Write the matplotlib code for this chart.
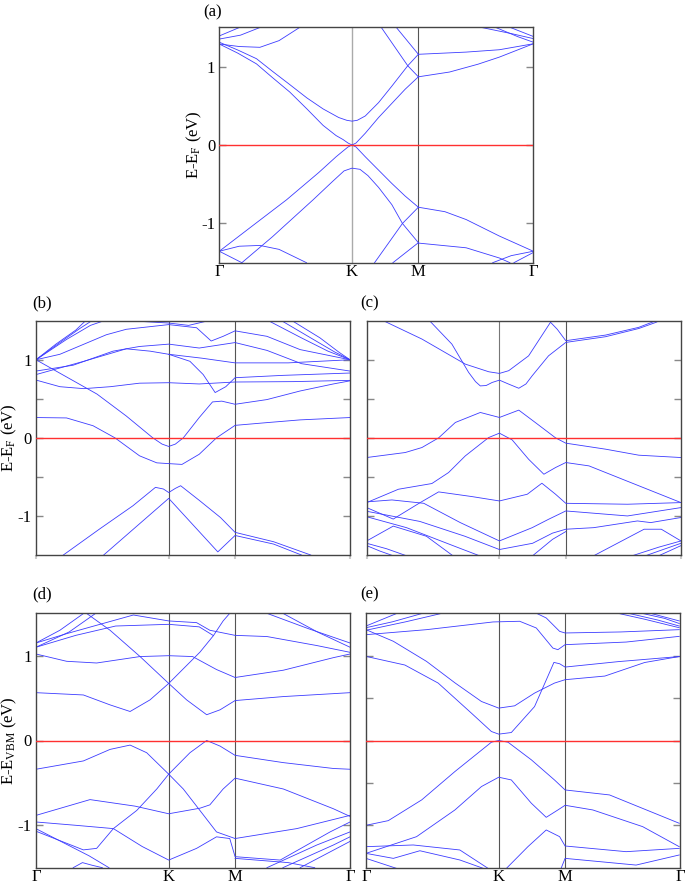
import matplotlib
matplotlib.use('Agg')
import matplotlib.pyplot as plt

plt.rcParams['font.family'] = ['Liberation Serif', 'DejaVu Serif']
plt.rcParams['mathtext.fontset'] = 'custom'
plt.rcParams['mathtext.rm'] = 'Liberation Serif'
plt.rcParams['mathtext.it'] = 'Liberation Serif:italic'

# high-symmetry path
kpts = [0.0, 1.0, 1.5, 2.366]
klabels = ['Γ', 'K', 'M', 'Γ']

# ---------------- panel (a) bands: (k, E) ----------------
a_c_in = [(0,1.287),(0.14,1.17),(0.28,1.034),(0.4,0.86),(0.531,0.675),(0.66,0.46),(0.782,0.25),(0.88,0.12),(0.932,0.07),(0.97,0.025),(1.0,0.0),(1.03,0.025),(1.1,0.15),(1.2,0.35),(1.3,0.53),(1.4,0.71),(1.5,0.869)]
a_c_out = [(0,1.31),(0.14,1.21),(0.28,1.10),(0.4,0.94),(0.531,0.77),(0.66,0.6),(0.782,0.46),(0.9,0.35),(0.96,0.315),(1.0,0.304),(1.04,0.315),(1.1,0.37),(1.2,0.54),(1.3,0.75),(1.42,1.01),(1.5,1.156)]
a_v_in = [(0,-1.354),(0.25,-1.03),(0.507,-0.698),(0.75,-0.35),(0.88,-0.15),(0.93,-0.08),(0.97,-0.025),(1.0,0.0),(1.03,-0.025),(1.1,-0.15),(1.2,-0.32),(1.3,-0.49),(1.4,-0.65),(1.5,-0.793)]
a_v_out = [(0.17,-1.5),(0.4,-1.17),(0.707,-0.698),(0.85,-0.47),(0.94,-0.33),(1.0,-0.295),(1.06,-0.31),(1.12,-0.39),(1.2,-0.54),(1.3,-0.76),(1.38,-1.0),(1.5,-1.245)]
a_top1 = [(1.22,1.5),(1.42,1.01),(1.5,0.869)]
a_top2 = [(1.333,1.5),(1.5,1.156)]
a_bot1 = [(1.17,-1.5),(1.38,-1.0),(1.5,-0.793)]
a_bot2 = [(1.308,-1.5),(1.5,-1.245)]
a_mc1 = [(1.5,1.156),(1.86,1.184),(2.11,1.214),(2.366,1.29)]
a_mc2 = [(1.5,0.869),(1.735,0.93),(1.95,1.03),(2.11,1.12),(2.366,1.29)]
a_mv1 = [(1.5,-0.793),(1.7,-0.85),(1.86,-0.95),(2.11,-1.16),(2.366,-1.354)]
a_mv2 = [(1.5,-1.25),(1.86,-1.31),(2.11,-1.44),(2.19,-1.5)]
a_gv1 = [(2.06,-1.5),(2.2,-1.41),(2.366,-1.354)]
a_gv2 = [(2.22,-1.5),(2.366,-1.37)]
a_gc1 = [(1.97,1.5),(2.2,1.42),(2.366,1.356)]
a_gc2 = [(2.19,1.5),(2.366,1.383)]
a_gc3 = [(2.08,1.5),(2.25,1.38),(2.366,1.31)]
a_arc_v = [(0,-1.354),(0.15,-1.29),(0.306,-1.28),(0.45,-1.33),(0.657,-1.5)]
a_gl_v = [(0,-1.354),(0.17,-1.5)]
a_arc_c = [(0,1.287),(0.15,1.255),(0.306,1.245),(0.45,1.33),(0.607,1.5)]
a_gl_c1 = [(0,1.39),(0.155,1.5)]
a_gl_c2 = [(0,1.35),(0.16,1.40),(0.31,1.5)]
bands_a = [a_c_in, a_c_out, a_v_in, a_v_out, a_top1, a_top2, a_bot1, a_bot2,
           a_mc1, a_mc2, a_mv1, a_mv2, a_gv1, a_gv2, a_gc1, a_gc2, a_gc3,
           a_arc_v, a_gl_v, a_arc_c, a_gl_c1, a_gl_c2]

# ---------------- panel (b) ----------------
b_v = [(0,1.0),(0.23,0.78),(0.46,0.56),(0.68,0.28),(0.88,0.0),(0.95,-0.08),(1.0,-0.11),(1.05,-0.08),(1.11,0.0),(1.23,0.26),(1.33,0.46),(1.40,0.47),(1.5,0.43),(1.74,0.49),(1.99,0.60),(2.24,0.69),(2.366,0.73)]
b_w = [(0,0.26),(0.23,0.255),(0.43,0.155),(0.595,0.0),(0.78,-0.23),(0.91,-0.32),(1.0,-0.33),(1.10,-0.34),(1.23,-0.21),(1.36,0.0),(1.5,0.16),(1.74,0.195),(1.99,0.23),(2.366,0.26)]
b_flat = [(0,0.74),(0.18,0.655),(0.36,0.63),(0.56,0.655),(0.78,0.70),(1.0,0.706),(1.23,0.69),(1.5,0.715),(1.94,0.72),(2.366,0.736)]
b_dip = [(0,0.81),(0.36,0.98),(0.68,1.14),(0.86,1.11),(1.0,1.07),(1.16,0.98),(1.26,0.81),(1.35,0.58),(1.43,0.655),(1.5,0.77),(1.86,0.80),(2.366,0.83)]
b_u1 = [(0,1.0),(0.18,1.22),(0.33,1.40),(0.43,1.51)]
b_u2 = [(0,1.0),(0.23,1.26),(0.41,1.44),(0.53,1.51)]
b_u3 = [(0,1.0),(0.18,1.07),(0.53,1.32),(0.68,1.39),(1.0,1.45),(1.21,1.41),(1.32,1.24),(1.41,1.30),(1.5,1.37),(1.74,1.30),(1.99,1.13),(2.366,1.0)]
b_u4 = [(0,0.855),(0.28,0.93),(0.58,1.11),(0.78,1.17),(1.0,1.20),(1.23,1.15),(1.5,1.22),(1.74,1.12),(2.0,0.95),(2.366,0.855)]
b_e = [(1.0,1.07),(1.25,1.02),(1.5,0.96),(1.9,0.96),(2.366,1.0)]
b_r1 = [(1.74,1.51),(2.0,1.28),(2.2,1.11),(2.366,1.0)]
b_r2 = [(1.84,1.51),(2.08,1.27),(2.25,1.1),(2.366,1.0)]
b_r3 = [(1.92,1.51),(2.14,1.28),(2.28,1.1),(2.366,1.0)]
b_l3 = [(0,1.0),(0.15,1.2),(0.3,1.38),(0.38,1.51)]
b_top = [(0.7,1.5),(1.0,1.47),(1.15,1.44),(1.3,1.5)]
b_v1 = [(0.206,-1.5),(0.48,-1.166),(0.73,-0.87),(0.90,-0.634),(0.96,-0.655),(1.0,-0.70),(1.05,-0.647),(1.09,-0.613),(1.23,-0.80),(1.39,-1.02),(1.5,-1.21),(1.79,-1.33),(2.07,-1.5)]
b_v2 = [(0.51,-1.5),(1.0,-0.775),(1.37,-1.46),(1.5,-1.25),(1.79,-1.36),(2.0,-1.5)]
bands_b = [b_v, b_w, b_flat, b_dip, b_u1, b_u2, b_u3, b_u4, b_e, b_r1, b_r2, b_r3,
           b_l3, b_top, b_v1, b_v2]

# ---------------- panel (c) ----------------
c_a = [(0.113,1.51),(0.416,1.265),(0.743,0.944),(0.92,0.846),(1.0,0.825),(1.07,0.86),(1.22,1.05),(1.385,1.48),(1.436,1.39),(1.5,1.244),(1.80,1.316),(2.05,1.415),(2.2,1.513)]
c_b = [(0.466,1.513),(0.642,1.20),(0.768,0.838),(0.82,0.72),(0.856,0.665),(0.9,0.67),(0.945,0.709),(1.0,0.739),(1.07,0.688),(1.146,0.635),(1.2,0.69),(1.247,0.795),(1.37,1.05),(1.5,1.222),(1.80,1.295),(2.05,1.40),(2.18,1.479),(2.22,1.513)]
c_c = [(0,-0.252),(0.29,-0.188),(0.416,-0.124),(0.542,0.0),(0.668,0.197),(0.856,0.325),(1.0,0.261),(1.146,0.355),(1.27,0.197),(1.423,0.0),(1.5,-0.068),(1.80,-0.145),(2.05,-0.222),(2.368,-0.252)]
c_d = [(0,-0.829),(0.239,-0.658),(0.491,-0.585),(0.617,-0.444),(0.743,-0.231),(0.919,0.004),(1.0,0.06),(1.096,-0.026),(1.22,-0.274),(1.335,-0.466),(1.423,-0.38),(1.5,-0.316),(1.675,-0.359),(1.927,-0.53),(2.368,-0.829)]
c_e = [(0,-0.893),(0.2,-1.04),(0.403,-0.829),(0.542,-0.692),(0.793,-0.752),(1.0,-0.808),(1.21,-0.722),(1.32,-0.581),(1.423,-0.722),(1.5,-0.838),(1.965,-0.85),(2.368,-0.829)]
c_f = [(0,-0.82),(0.19,-0.795),(0.43,-0.838),(0.705,-1.085),(1.0,-1.32),(1.247,-1.15),(1.37,-1.043),(1.448,-0.979),(1.5,-0.936),(1.965,-1.0),(2.368,-0.893)]
c_g = [(0,-0.94),(0.4,-1.07),(0.74,-1.26),(1.0,-1.43),(1.25,-1.35),(1.4,-1.22),(1.5,-1.17),(1.71,-1.15),(2.04,-1.064),(2.14,-1.085),(2.368,-1.02)]
c_h = [(0,-1.01),(0.3,-1.15),(0.65,-1.38),(0.85,-1.51)]
c_i = [(0,-1.32),(0.2,-1.13),(0.45,-1.26),(0.65,-1.51)]
c_j = [(0,-1.35),(0.15,-1.42),(0.3,-1.51)]
c_k = [(0,-1.38),(0.1,-1.45),(0.2,-1.51)]
c_l = [(1.25,-1.51),(1.4,-1.3),(1.5,-1.2)]
c_m = [(1.71,-1.51),(2.09,-1.17),(2.22,-1.17),(2.368,-1.32)]
c_n = [(2.0,-1.51),(2.2,-1.4),(2.368,-1.32)]
c_o = [(2.1,-1.51),(2.25,-1.42),(2.368,-1.35)]
c_p = [(2.2,-1.51),(2.368,-1.38)]
bands_c = [c_a, c_b, c_c, c_d, c_e, c_f, c_g, c_h, c_i, c_j, c_k, c_l, c_m, c_n, c_o, c_p]

# ---------------- panel (d) ----------------
d_vtop = [(0,-0.339),(0.357,-0.241),(0.558,-0.105),(0.709,-0.054),(0.834,-0.144),(1.0,-0.397),(1.11,-0.572),(1.21,-0.774),(1.36,-1.078),(1.5,-1.156),(1.965,-1.039),(2.366,-0.883)]
d_rise = [(0,-1.07),(0.357,-1.29),(0.457,-1.272),(0.583,-1.039),(0.759,-0.825),(0.91,-0.572),(1.0,-0.397),(1.16,-0.144),(1.286,0.0),(1.387,-0.066),(1.5,-0.175),(1.864,-0.261),(2.241,-0.33),(2.366,-0.339)]
d_3 = [(0,-0.883),(0.407,-0.697),(0.746,-0.774),(1.0,-0.864),(1.236,-0.798),(1.31,-0.759),(1.41,-0.572),(1.5,-0.444),(1.864,-0.572),(2.241,-0.805),(2.366,-0.895)]
d_4 = [(0,-0.961),(0.3,-1.0),(0.583,-1.039),(0.8,-1.25),(1.0,-1.41),(1.21,-1.272),(1.36,-1.136),(1.46,-1.156),(1.5,-1.37),(1.84,-1.41),(2.216,-1.078),(2.366,-0.961)]
d_5 = [(0,-1.04),(0.3,-1.28),(0.4,-1.36),(0.55,-1.5)]
d_6 = [(0.28,-1.5),(0.35,-1.44),(0.42,-1.47),(0.5,-1.5)]
d_7 = [(1.5,-1.39),(1.9,-1.44),(2.1,-1.5)]
d_8 = [(1.74,-1.5),(2.115,-1.233),(2.366,-1.078)]
d_9 = [(1.86,-1.5),(2.24,-1.233),(2.366,-1.136)]
d_10 = [(1.99,-1.5),(2.366,-1.19)]
d_c1 = [(0,0.564),(0.357,0.537),(0.558,0.42),(0.709,0.342),(0.859,0.479),(1.0,0.673),(1.236,1.043),(1.337,1.237),(1.41,1.41),(1.46,1.5)]
d_c2 = [(0.38,1.5),(0.558,1.30),(0.784,0.99),(1.0,0.673),(1.135,0.479),(1.286,0.304),(1.387,0.362),(1.5,0.471),(1.864,0.518),(2.366,0.564)]
d_c3 = [(0,1.02),(0.231,0.934),(0.457,0.914),(0.784,0.99),(1.0,1.0),(1.18,0.99),(1.36,0.837),(1.5,0.743),(1.864,0.829),(2.241,0.977),(2.366,1.02)]
d_c4 = [(0,1.15),(0.231,1.26),(0.482,1.37),(0.734,1.48),(1.0,1.41),(1.21,1.39),(1.31,1.30),(1.5,1.24),(1.74,1.226),(2.115,1.12),(2.366,1.04)]
d_c5 = [(0,1.10),(0.3,1.24),(0.6,1.35),(1.0,1.37),(1.23,1.34),(1.337,1.237)]
d_l1 = [(0,1.15),(0.18,1.30),(0.36,1.5)]
d_l2 = [(0,1.10),(0.25,1.28),(0.45,1.5)]
d_r1 = [(1.74,1.5),(2.05,1.32),(2.366,1.15)]
d_r2 = [(1.86,1.5),(2.12,1.28),(2.366,1.10)]
bands_d = [d_vtop, d_rise, d_3, d_4, d_5, d_6, d_7, d_8, d_9, d_10,
           d_c1, d_c2, d_c3, d_c4, d_c5, d_l1, d_l2, d_r1, d_r2]

# ---------------- panel (e) ----------------
e_v1 = [(0,-1.0),(0.168,-0.945),(0.42,-0.70),(0.67,-0.366),(0.945,-0.02),(1.0,0.0),(1.07,-0.02),(1.246,-0.228),(1.42,-0.465),(1.5,-0.583),(1.835,-0.642),(2.36,-0.976)]
e_v2 = [(0,-1.331),(0.381,-1.134),(0.67,-0.819),(0.87,-0.543),(1.0,-0.433),(1.095,-0.465),(1.246,-0.74),(1.358,-0.906),(1.446,-0.819),(1.5,-0.764),(1.709,-0.819),(2.085,-1.016),(2.36,-1.252)]
e_v3 = [(1.058,-1.508),(1.22,-1.252),(1.358,-1.055),(1.459,-1.134),(1.5,-1.244),(1.96,-1.311),(2.36,-1.272)]
e_v4 = [(0,-1.252),(0.356,-1.232),(0.707,-1.291),(0.92,-1.508)]
e_v5 = [(0,-1.331),(0.206,-1.39),(0.406,-1.3),(0.707,-1.409),(0.92,-1.528)]
e_v6 = [(0,-1.39),(0.23,-1.508)]
e_v7 = [(1.47,-1.508),(1.5,-1.39),(2.035,-1.469),(2.36,-1.35)]
e_c1 = [(0,0.992),(0.293,0.89),(0.544,0.677),(0.794,0.323),(0.945,0.106),(1.0,0.075),(1.095,0.094),(1.27,0.40),(1.37,0.756),(1.416,0.921),(1.459,0.905),(1.5,0.866),(1.9,0.93),(2.36,0.99)]
e_c2 = [(0,1.307),(0.206,1.17),(0.456,0.933),(0.67,0.68),(0.87,0.46),(1.0,0.382),(1.12,0.409),(1.27,0.559),(1.42,0.677),(1.5,0.717),(1.8,0.76),(2.1,0.92),(2.36,0.99)]
e_c3 = [(0,1.248),(0.456,1.307),(0.957,1.398),(1.158,1.406),(1.283,1.327),(1.408,1.09),(1.446,1.071),(1.5,1.13),(1.96,1.161),(2.36,1.228)]
e_c4 = [(1.258,1.52),(1.358,1.445),(1.459,1.287),(1.5,1.268),(1.92,1.28),(2.36,1.307)]
e_l1 = [(0,1.35),(0.25,1.51)]
e_l2 = [(0,1.33),(0.2,1.40),(0.45,1.51)]
e_l3 = [(0,1.30),(0.3,1.40),(0.6,1.51)]
e_r1 = [(1.87,1.51),(2.1,1.43),(2.36,1.33)]
e_r2 = [(1.95,1.51),(2.2,1.42),(2.36,1.35)]
e_r3 = [(2.05,1.51),(2.25,1.44),(2.36,1.38)]
e_r4 = [(2.12,1.51),(2.36,1.41)]
bands_e = [e_v1, e_v2, e_v3, e_v4, e_v5, e_v6, e_v7, e_c1, e_c2, e_c3, e_c4,
           e_l1, e_l2, e_l3, e_r1, e_r2, e_r3, e_r4]

ylabel_f = 'E-E$_\\mathrm{F}$ (eV)'
ylabel_vbm = 'E-E$_\\mathrm{VBM}$ (eV)'

W, H = 685.0, 884.0
def rect(l, t, r, b):
    return [l / W, 1 - b / H, (r - l) / W, (b - t) / H]

panels = [
    dict(name='(a)', bands=bands_a, rect=rect(219.3, 27.3, 533.3, 262.7), ylab=ylabel_f,
         xlab=True, ylabnum=True, minor=False, lab=(203, 12), kcol='#aaaaaa', labx=-0.05),
    dict(name='(b)', bands=bands_b, rect=rect(36, 320.7, 350, 555), ylab=ylabel_f,
         xlab=False, ylabnum=True, minor=True, lab=(32, 303), kcol='#555555', labx=-0.055),
    dict(name='(c)', bands=bands_c, rect=rect(366.7, 320.7, 680.7, 555), ylab=None,
         xlab=False, ylabnum=False, minor=True, lab=(360, 303), kcol='#777777', labx=0),
    dict(name='(d)', bands=bands_d, rect=rect(36, 613.3, 350, 867.7), ylab=ylabel_vbm,
         xlab=True, ylabnum=True, minor=False, lab=(32, 594), kcol='#555555', labx=-0.055),
    dict(name='(e)', bands=bands_e, rect=rect(366, 613.3, 680, 867.7), ylab=None,
         xlab=True, ylabnum=False, minor=True, lab=(360, 594), kcol='#555555', labx=0),
]

fig = plt.figure(figsize=(6.85, 8.84), dpi=100)
for p in panels:
    ax = fig.add_axes(p['rect'])
    for band in p['bands']:
        ks = [pt[0] for pt in band]
        es = [pt[1] for pt in band]
        ax.plot(ks, es, color='#3c3cff', lw=0.6, solid_joinstyle='round')
    ax.axhline(0, color='#ff3030', lw=1.0, zorder=3)
    ax.axvline(kpts[1], color=p['kcol'], lw=1.0 if p['kcol'] == '#aaaaaa' else 0.8, zorder=1)
    ax.axvline(kpts[2], color='#555555', lw=0.8, zorder=1)
    ax.set_xlim(kpts[0], kpts[-1])
    ax.set_ylim(-1.5, 1.5)
    ax.set_xticks(kpts)
    if p['xlab']:
        ax.set_xticklabels(klabels, fontsize=12)
        ax.tick_params(axis='x', length=0, pad=1)
    else:
        ax.set_xticklabels([])
        ax.tick_params(axis='x', direction='out', length=3, color='#cccccc', width=1.5)
    ax.set_yticks([-1, 0, 1])
    if p['minor']:
        ax.set_yticks([-0.5, 0.5], minor=True)
    ax.tick_params(axis='y', which='both', direction='in', left=True, right=True,
                   length=5, width=1.0, color='#888888', labelsize=12, pad=3)
    if p['ylabnum']:
        ax.set_yticklabels(['-1', '0', '1'])
    else:
        ax.set_yticklabels([])
    if p['ylab']:
        ax.set_ylabel(p['ylab'], fontsize=12)
        ax.yaxis.set_label_coords(p['labx'], 0.5)
    for s in ax.spines.values():
        s.set_color('#444444')
        s.set_linewidth(1.0)
    fig.text(p['lab'][0] / W, 1 - p['lab'][1] / H, p['name'], fontsize=12,
             ha='left', va='center')

fig.savefig('out.png', dpi=100)
